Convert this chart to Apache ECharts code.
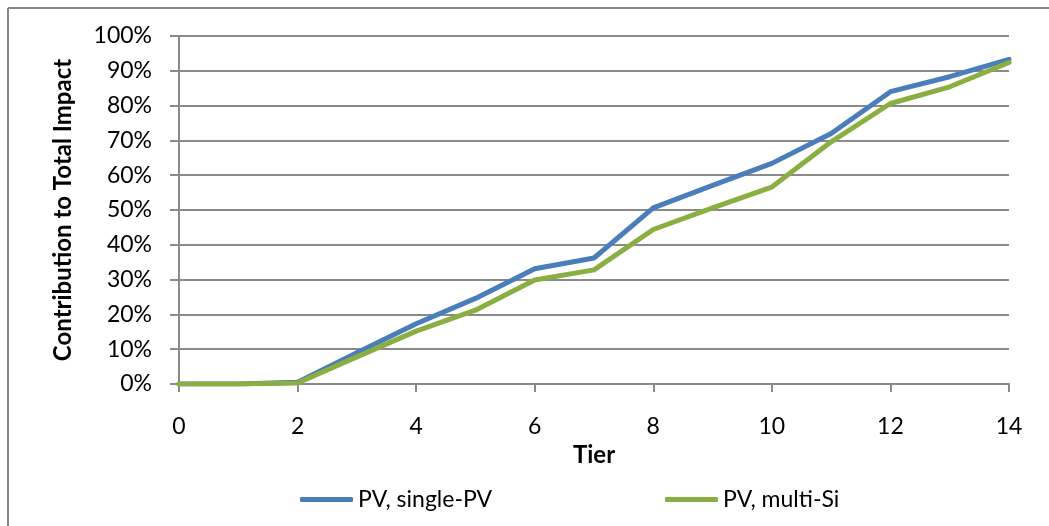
<!DOCTYPE html>
<html>
<head>
<meta charset="utf-8">
<script src="https://cdn.jsdelivr.net/npm/echarts@6/dist/echarts.min.js"></script>
<style>
  html, body { margin: 0; padding: 0; background: #fff; }
  #chart { width: 1049px; height: 526px; }
</style>
</head>
<body>
<div id="chart"></div>
<script>
// Tier positions along the x axis
const tiers = [0, 1, 2, 3, 4, 5, 6, 7, 8, 9, 10, 11, 12, 13, 14];

// Cumulative contribution to total impact, in percent
const singlePV = [0, 0, 0.5, 9, 17.3, 24.6, 33.1, 36.2, 50.6, 57.1, 63.4, 72.0, 84.0, 88.3, 93.3];
const multiSi  = [0, 0, 0.3, 7.8, 15.2, 21.2, 29.9, 32.8, 44.4, 50.6, 56.6, 69.6, 80.6, 85.4, 92.4];

const seriesNames = ['PV, single-PV', 'PV, multi-Si'];
const colors = ['#4A7EBB', '#8BAE42'];

const font = 'Lato, "Open Sans", sans-serif';
const gridColor = '#8a8a8a';
const labelSize = 23;
const titleSize = 24;

const chart = echarts.init(document.getElementById('chart'), null, { renderer: 'canvas' });

const pairs = arr => tiers.map((t, i) => [t, arr[i]]);

chart.setOption({
  animation: false,
  backgroundColor: '#fff',
  textStyle: { fontFamily: font, color: '#000' },
  graphic: [
    // chart frame (left and top edges)
    { type: 'line', shape: { x1: 8, y1: 8, x2: 8, y2: 526 }, style: { stroke: '#868686', lineWidth: 2 } },
    { type: 'line', shape: { x1: 8, y1: 8, x2: 1049, y2: 8 }, style: { stroke: '#868686', lineWidth: 2 } }
  ],
  grid: { left: 179, right: 40, top: 36, bottom: 142 },
  xAxis: {
    type: 'value',
    min: 0, max: 14, interval: 2,
    name: 'Tier',
    nameLocation: 'middle',
    nameGap: 49,
    nameTextStyle: { fontFamily: font, fontSize: titleSize, fontWeight: 'bold', color: '#000' },
    axisLine: { show: true, lineStyle: { color: gridColor, width: 2 } },
    axisTick: { show: true, length: 8, lineStyle: { color: gridColor, width: 2 } },
    axisLabel: { fontFamily: font, fontSize: labelSize, color: '#000', margin: 31 },
    splitLine: { show: false }
  },
  yAxis: {
    type: 'value',
    min: 0, max: 100, interval: 10,
    name: 'Contribution to Total Impact',
    nameLocation: 'middle',
    nameGap: 104,
    nameRotate: 90,
    nameTextStyle: { fontFamily: font, fontSize: titleSize, fontWeight: 'bold', color: '#000' },
    axisLine: { show: true, lineStyle: { color: gridColor, width: 2 } },
    axisTick: { show: true, length: 9, lineStyle: { color: gridColor, width: 2 } },
    axisLabel: { fontFamily: font, fontSize: labelSize, color: '#000', margin: 27, formatter: v => v + '%' },
    splitLine: { show: true, lineStyle: { color: gridColor, width: 2 } }
  },
  legend: [
    {
      data: [seriesNames[0]], left: 295, top: 483,
      icon: 'roundRect', itemWidth: 53, itemHeight: 5, itemGap: 0,
      textStyle: { fontFamily: font, fontSize: labelSize, color: '#000' }
    },
    {
      data: [seriesNames[1]], left: 660, top: 483,
      icon: 'roundRect', itemWidth: 53, itemHeight: 5, itemGap: 0,
      textStyle: { fontFamily: font, fontSize: labelSize, color: '#000' }
    }
  ],
  series: [
    {
      name: seriesNames[0], type: 'line', data: pairs(singlePV),
      showSymbol: false, symbol: 'none', color: colors[0],
      lineStyle: { width: 5, color: colors[0], cap: 'round', join: 'round' }
    },
    {
      name: seriesNames[1], type: 'line', data: pairs(multiSi),
      showSymbol: false, symbol: 'none', color: colors[1],
      lineStyle: { width: 5, color: colors[1], cap: 'round', join: 'round' }
    }
  ]
});
</script>
</body>
</html>
